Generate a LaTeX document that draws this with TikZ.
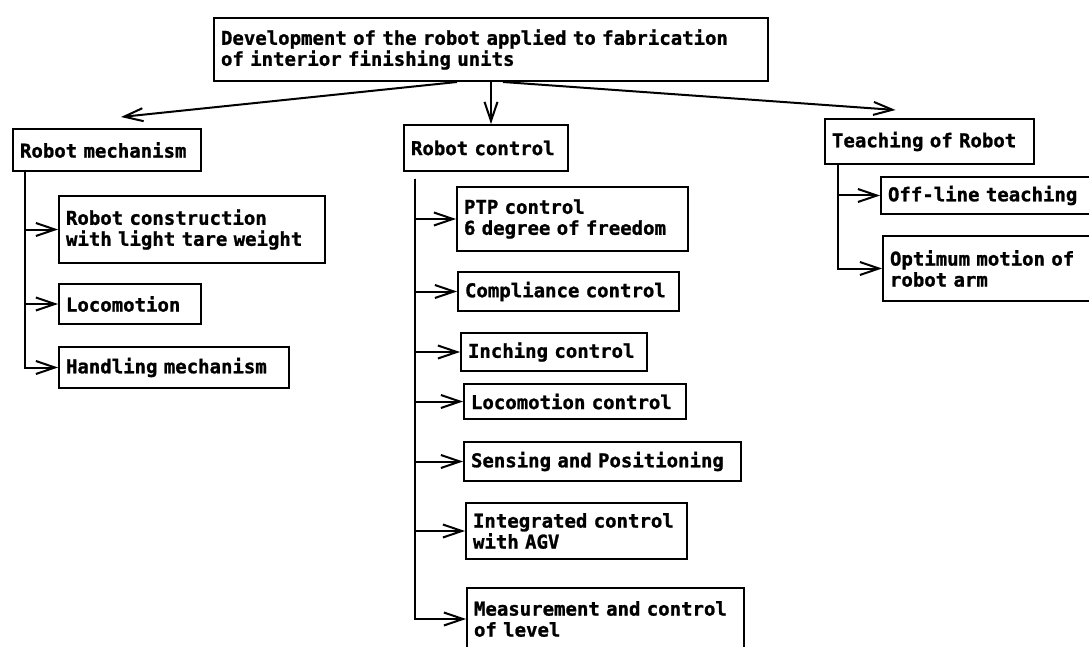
\documentclass[tikz,border=0pt]{standalone}
\usepackage{fontspec}
\setmonofont[BoldFeatures={FakeBold=1.2}]{DejaVu Sans Mono}
\usetikzlibrary{arrows.meta}
\usetikzlibrary{positioning}

\begin{document}
\begin{tikzpicture}[x=1pt,y=-1pt,
    unitbox/.style={draw, line width=2pt, anchor=north west, align=left,
      inner xsep=7pt, inner ysep=3pt,
      font=\fontsize{19}{21}\selectfont\ttfamily\bfseries},
    link/.style={line width=2pt, -{Straight Barb[length=19pt,width=13pt]}}]
  \useasboundingbox (0,0) rectangle (1089,647);

  % Hauptziel
  \node[unitbox, text width=540pt, minimum height=63pt] (dev) at (213,17)
    {Development of the robot applied to fabrication\\of interior finishing units};

  % Drei Bereiche
  \node[unitbox, text width=174pt, minimum height=42pt] (mech) at (12,128) {Robot mechanism};
  \node[unitbox, text width=150pt, minimum height=46pt] (ctrl) at (403,124) {Robot control};
  \node[unitbox, text width=195pt, minimum height=45pt] (teach) at (824,118) {Teaching of Robot};

  % Mechanik
  \node[unitbox, text width=252pt, minimum height=67pt] (constr) at (58,195)
    {Robot construction\\with light tare weight};
  \node[unitbox, text width=128pt, minimum height=40pt] (loco) at (58,283) {Locomotion};
  \node[unitbox, text width=216pt, minimum height=41pt] (handl) at (58,346) {Handling mechanism};

  % Steuerung
  \node[unitbox, text width=217pt, minimum height=64pt] (ptp) at (456,186)
    {PTP control\\6 degree of freedom};
  \node[unitbox, text width=207pt, minimum height=39pt] (compl) at (457,271) {Compliance control};
  \node[unitbox, text width=172pt, minimum height=38pt] (inch) at (460,332) {Inching control};
  \node[unitbox, text width=208pt, minimum height=35pt] (lococtrl) at (463,383) {Locomotion control};
  \node[unitbox, text width=263pt, minimum height=39pt] (sens) at (463,441) {Sensing and Positioning};
  \node[unitbox, text width=207pt, minimum height=56pt] (integ) at (465,502)
    {Integrated control\\with AGV};
  \node[unitbox, text width=263pt, minimum height=62pt] (meas) at (466,587)
    {Measurement and control\\of level};

  % Teaching
  \node[unitbox, text width=195pt, minimum height=37pt] (offl) at (880,176) {Off-line teaching};
  \node[unitbox, text width=200pt, minimum height=65pt] (optim) at (882,235)
    {Optimum motion of\\robot arm};

  % Pfeile vom Hauptziel
  \draw[link] ([xshift=-34pt]dev.south) -- ([xshift=14pt,yshift=11pt]mech.north);
  \draw[link] (dev.south) -- (dev.south |- ctrl.north);
  \draw[link] ([xshift=12pt]dev.south) -- ([xshift=-34pt,yshift=8pt]teach.north);

  % Verzweigungen
  \coordinate (mechtrunk) at (25,170);
  \coordinate (ctrltrunk) at (415,179);
  \coordinate (teachtrunk) at (838,163);
  \foreach \n in {constr,loco,handl}
    \draw[link] (mechtrunk) |- (\n.west);
  \foreach \n in {ptp,compl,inch,lococtrl,sens,integ,meas}
    \draw[link] (ctrltrunk) |- (\n.west);
  \foreach \n in {offl,optim}
    \draw[link] (teachtrunk) |- (\n.west);
\end{tikzpicture}
\end{document}
